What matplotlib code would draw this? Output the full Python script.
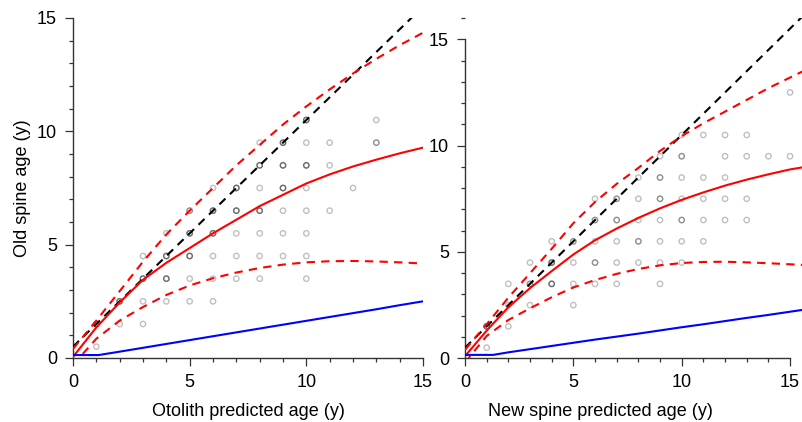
import numpy as np
import matplotlib
matplotlib.use("Agg")
import matplotlib.pyplot as plt
from matplotlib.ticker import MultipleLocator

plt.rcParams['font.family'] = ['Liberation Sans', 'DejaVu Sans']

W, H = 803, 422

# ---------------- data: otolith vs old spine ----------------
oto_x = [1, 1, 2, 2, 3, 3, 3, 3,
         4, 4, 4, 4, 5, 5, 5, 5, 5, 6, 6, 6, 6, 6, 6,
         7, 7, 7, 7, 7, 8, 8, 8, 8, 8, 8, 8,
         9, 9, 9, 9, 9, 9, 10, 10, 10, 10, 10, 10, 10, 10,
         11, 11, 11, 12, 13, 13]
oto_y = [0.5, 1.5, 1.5, 2.5, 1.5, 2.5, 3.5, 4.5,
         2.5, 3.5, 4.5, 5.5, 3.5, 4.5, 5.5, 6.5, 2.5, 2.5, 3.5, 4.5, 5.5, 6.5, 7.5,
         3.5, 4.5, 5.5, 6.5, 7.5, 3.5, 4.5, 5.5, 6.5, 7.5, 8.5, 9.5,
         4.5, 5.5, 6.5, 7.5, 8.5, 9.5, 3.5, 5.5, 6.5, 7.5, 8.5, 9.5, 10.5, 4.5,
         6.5, 8.5, 9.5, 7.5, 9.5, 10.5]
oto_n = [1, 3, 1, 3, 1, 1, 3, 1,
         1, 3, 3, 1, 1, 3, 3, 2, 1, 1, 1, 1, 3, 3, 1,
         1, 1, 1, 3, 3, 1, 1, 1, 3, 1, 3, 1,
         1, 1, 1, 3, 3, 3, 1, 1, 1, 1, 3, 1, 3, 1,
         1, 1, 1, 1, 2, 1]
oto_n[-7] = 1  # (10, 4.5) is a single reading

# fitted curves, otolith panel
oto_cx = [0, 1, 2, 3, 4, 5, 6, 7, 8, 9, 10, 11, 12, 13, 14, 15]
oto_fit = [0.05, 1.35, 2.45, 3.45, 4.2, 4.85, 5.5, 6.1, 6.7, 7.2, 7.7, 8.1, 8.45, 8.75, 9.03, 9.28]
oto_hi = [0.4, 1.65, 2.95, 4.25, 5.45, 6.5, 7.5, 8.5, 9.4, 10.3, 11.1, 11.85, 12.55, 13.2, 13.8, 14.35]
oto_lo = [-0.3, 0.85, 1.65, 2.25, 2.78, 3.2, 3.52, 3.77, 3.97, 4.12, 4.22, 4.27, 4.28, 4.26, 4.22, 4.17]
oto_sd_x = [0, 1.1, 2, 3, 4, 5, 6, 7, 8, 9, 10, 11, 12, 13, 14, 15]
oto_sd = [0.13, 0.13, 0.28, 0.45, 0.62, 0.79, 0.96, 1.13, 1.3, 1.47, 1.64, 1.81, 1.98, 2.15, 2.33, 2.5]

# ---------------- data: new spine vs old spine ----------------
new_x = [1, 1, 2, 2, 2, 3, 3, 3,
         4, 4, 4, 5, 5, 5, 5, 6, 6, 6, 6, 6,
         7, 7, 7, 7, 7, 8, 8, 8, 8, 8,
         9, 9, 9, 9, 9, 9, 9,
         10, 10, 10, 10, 10, 10, 10,
         11, 11, 11, 11, 11, 12, 12, 12, 12, 12,
         13, 13, 13, 13, 14, 15, 15]
new_y = [0.5, 1.5, 1.5, 2.5, 3.5, 2.5, 3.5, 4.5,
         3.5, 4.5, 5.5, 2.5, 3.5, 4.5, 5.5, 3.5, 4.5, 5.5, 6.5, 7.5,
         3.5, 4.5, 5.5, 6.5, 7.5, 4.5, 5.5, 6.5, 7.5, 8.5,
         3.5, 4.5, 5.5, 6.5, 7.5, 8.5, 9.5,
         4.5, 5.5, 6.5, 7.5, 8.5, 9.5, 10.5,
         5.5, 6.5, 7.5, 8.5, 10.5, 6.5, 7.5, 8.5, 9.5, 10.5,
         6.5, 7.5, 9.5, 10.5, 9.5, 9.5, 12.5]
new_n = [1, 3, 1, 1, 1, 1, 2, 1,
         3, 3, 1, 1, 1, 1, 2, 1, 2, 1, 2, 1,
         1, 1, 1, 2, 2, 1, 2, 1, 1, 1,
         1, 1, 1, 1, 2, 2, 1,
         1, 1, 2, 1, 1, 2, 1,
         1, 1, 1, 1, 1, 1, 1, 1, 1, 1,
         1, 1, 1, 1, 1, 1, 1]

new_cx = [0, 1, 2, 3, 4, 5, 6, 7, 8, 9, 10, 11, 12, 13, 14, 15, 16]
new_fit = [0.1, 1.3, 2.4, 3.3, 4.1, 4.88, 5.55, 6.1, 6.6, 7.05, 7.45, 7.8, 8.12, 8.4, 8.65, 8.88, 9.05]
new_hi = [0.4, 1.6, 2.85, 4.0, 5.15, 6.35, 7.35, 8.2, 8.95, 9.75, 10.45, 11.05, 11.6, 12.15, 12.7, 13.2, 13.7]
new_lo = [-0.2, 1.05, 1.8, 2.35, 2.87, 3.33, 3.68, 3.97, 4.2, 4.37, 4.48, 4.53, 4.54, 4.51, 4.47, 4.42, 4.37]
new_sd_x = [0, 1.3, 2, 3, 4, 5, 6, 7, 8, 9, 10, 11, 12, 13, 14, 15, 16]
new_sd = [0.16, 0.16, 0.28, 0.43, 0.58, 0.73, 0.88, 1.02, 1.16, 1.31, 1.46, 1.6, 1.75, 1.9, 2.04, 2.19, 2.34]

# 1:1 reference (spine ages are plotted at age + 0.5)
ref_x = [0, 16]
ref_y = [0.5, 16.5]

ticks_major = [0, 5, 10, 15]
tick_fs = 13
label_fs = 13


def px_axes(fig, x0, y_top, x1, y_bottom):
    return fig.add_axes([x0 / W, 1 - y_bottom / H, (x1 - x0) / W, (y_bottom - y_top) / H])


def style(ax):
    for s in ('top', 'right'):
        ax.spines[s].set_visible(False)
    for s in ('left', 'bottom'):
        ax.spines[s].set_bounds(0, 15)
        ax.spines[s].set_color('#333333')
        ax.spines[s].set_linewidth(1.0)
    ax.set_xticks(ticks_major)
    ax.set_yticks(ticks_major)
    ax.xaxis.set_minor_locator(MultipleLocator(1))
    ax.yaxis.set_minor_locator(MultipleLocator(1))
    ax.tick_params(which='major', length=5.5, width=0.9, color='#333333',
                   labelsize=tick_fs, pad=6)
    ax.tick_params(which='minor', length=3, width=0.9, color='#333333')
    ax.set_facecolor('none')


def draw(ax, px, py, pn, cx, fit, hi, lo, sdx, sd):
    xs = np.repeat(px, pn)
    ys = np.repeat(py, pn)
    ax.scatter(xs, ys, s=15, facecolors='none', edgecolors='black',
               alpha=0.25, linewidths=1.0, zorder=2)
    dash = (0, (4, 3))
    ax.plot(ref_x, ref_y, color='black', lw=1.5, linestyle=dash, zorder=3)
    ax.plot(cx, hi, color='red', lw=1.5, linestyle=dash, zorder=4)
    ax.plot(cx, lo, color='red', lw=1.5, linestyle=dash, zorder=4)
    ax.plot(cx, fit, color='red', lw=1.5, zorder=4)
    ax.plot(sdx, sd, color='blue', lw=1.5, zorder=4)


fig = plt.figure(figsize=(W / 100, H / 100), dpi=100)

ax1 = px_axes(fig, 73, 18, 423, 358)
ax1.set_xlim(0, 15)
ax1.set_ylim(0, 15)
style(ax1)
draw(ax1, oto_x, oto_y, oto_n, oto_cx, oto_fit, oto_hi, oto_lo, oto_sd_x, oto_sd)

ax2 = px_axes(fig, 465, 18, 465 + 21.67 * 16, 358.3)
ax2.set_xlim(0, 16)
ax2.set_ylim(0, 16)
style(ax2)
draw(ax2, new_x, new_y, new_n, new_cx, new_fit, new_hi, new_lo, new_sd_x, new_sd)

fig.text(248 / W, 1 - 411 / H, 'Otolith predicted age (y)', ha='center', va='center',
         fontsize=label_fs)
fig.text(600 / W, 1 - 411 / H, 'New spine predicted age (y)', ha='center', va='center',
         fontsize=label_fs)
fig.text(23 / W, 1 - 188 / H, 'Old spine age (y)', ha='center', va='center',
         rotation=90, fontsize=label_fs)

fig.savefig('out.png', dpi=100)
